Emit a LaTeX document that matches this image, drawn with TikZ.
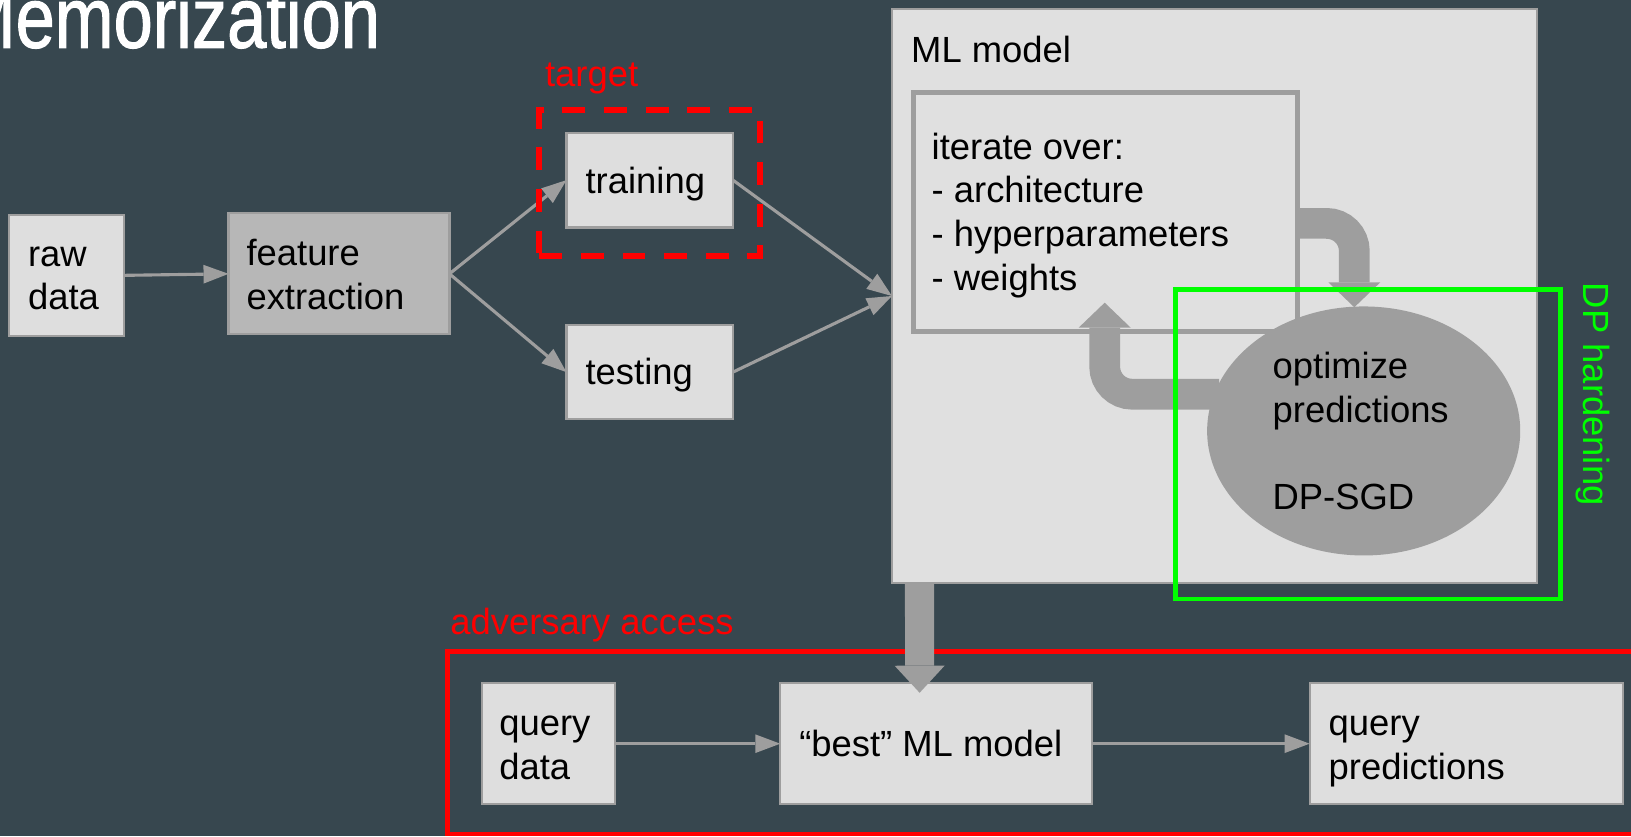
\documentclass[tikz,border=0pt]{standalone}
\usepackage{fontspec}
\setmainfont{Liberation Sans}
\newfontfamily\titlefont[FakeBold=1.4]{Liberation Sans}
\usepackage{graphicx}
\usetikzlibrary{arrows.meta,calc,shapes.geometric}
\definecolor{bg}{HTML}{37474F}
\definecolor{boxfill}{HTML}{DEDEDE}
\definecolor{mlfill}{HTML}{E0E0E0}
\definecolor{featfill}{HTML}{B7B7B7}
\definecolor{edge}{HTML}{9E9E9E}
\definecolor{bandgray}{HTML}{9E9E9E}
\definecolor{redc}{HTML}{FF0000}
\definecolor{greenc}{HTML}{00FF00}
\pgfdeclarelayer{fg}
\pgfsetlayers{main,fg}
\begin{document}
\begin{tikzpicture}[x=1pt,y=-1pt,
  box/.style={draw=edge, line width=2pt, fill=boxfill, rectangle, inner sep=0pt, outer sep=0pt},
  txt/.style={anchor=base west, inner sep=0pt, outer sep=0pt, font=\fontsize{35}{42}\selectfont, text=black},
  conn/.style={draw=edge, line width=3pt, -{Triangle[length=24pt,width=18pt,line width=0pt]}},
  band/.style={draw=bandgray, line width=29.5pt, rounded corners=26.5pt, -{Triangle[length=24pt,width=50pt,line width=0pt]}},
]
\useasboundingbox (0,0) rectangle (1568,804);
\fill[bg] (0,0) rectangle (1568,804);
\clip (0,0) rectangle (1568,804);

% title
\node[anchor=base west, inner sep=0pt, text=white] (title) at (-41.6,45.8)
  {\scalebox{0.818}[1]{\titlefont\fontsize{82.85}{90}\selectfont Memorization}};

% ML model container
\node[box, fill=mlfill, minimum width=620.1pt, minimum height=552.3pt] (ml) at (1167.55,284.55) {};
\node[txt] (mlt) at (876,60) {ML model};
\node[draw=edge, line width=5pt, rectangle, inner sep=0pt, outer sep=0pt, minimum width=369.5pt, minimum height=229.5pt] (iter) at (1062.75,203.75) {};
\node[txt] (itert) at (895.7,153) {\vtop{\hbox{iterate over:}\hbox{- architecture}\hbox{- hyperparameters}\hbox{- weights}}};

\begin{pgfonlayer}{fg}
\node[ellipse, fill=bandgray, inner sep=0pt, outer sep=0pt, minimum width=301pt, minimum height=239.4pt] (ell) at (1311,414.3) {};
\node[txt] (ellt) at (1223.5,364) {\vtop{\hbox{optimize}\hbox{predictions}\hbox{}\hbox{DP-SGD}}};
\end{pgfonlayer}

% loop bands
\draw[band] ($(iter.east)+(0,11)$) -| ($(ell.north)+(-9,0.8)$);
\draw[band] ($(ell.west)+(11.5,-35.3)$) -| ($(iter.south)+(-0.75,-27.5)$);

% left pipeline
\node[box, minimum width=110.4pt, minimum height=116pt] (raw) at (64,264.7) {};
\node[txt] (rawt) at (27,256) {\vtop{\hbox{raw}\hbox{data}}};
\node[box, fill=featfill, minimum width=212.4pt, minimum height=116.3pt] (feat) at (325.9,263.25) {};
\node[txt] (featt) at (237,255.5) {\vtop{\hbox{feature}\hbox{extraction}}};
\node[box, minimum width=160pt, minimum height=91.1pt] (train) at (624.6,173.15) {};
\node[txt] (traint) at (563,185.7) {training};
\node[box, minimum width=160pt, minimum height=90.7pt] (test) at (624.6,357.75) {};
\node[txt] (testt) at (563,369.8) {testing};

\draw[conn] (raw.east) -- (feat.west);
\draw[conn] (feat.east) -- (train.west);
\draw[conn] (feat.east) -- (test.west);
\draw[conn] (train.east) -- (ml.west);
\draw[conn] (test.east) -- (ml.west);

% target
\node[draw=redc, line width=5.8pt, dash pattern=on 22pt off 18pt, rectangle, inner sep=0pt, outer sep=0pt, minimum width=212.1pt, minimum height=140pt] (target) at (624.55,175.8) {};
\node[txt, text=redc] (targett) at (524,83) {target};

% adversary access
\node[draw=redc, line width=4.5pt, rectangle, inner sep=0pt, outer sep=0pt, minimum width=1170pt, minimum height=175.8pt] (adv) at (1015,713.9) {};
\node[txt, text=redc] (advt) at (433,609.6) {adversary access};
\node[box, minimum width=127.7pt, minimum height=116.1pt] (qd) at (527.05,714.95) {};
\node[txt] (qdt) at (480,707) {\vtop{\hbox{query}\hbox{data}}};
\node[box, minimum width=299.4pt, minimum height=116.1pt] (best) at (899.8,714.95) {};
\node[txt] (bestt) at (768.4,727.5) {“best” ML model};
\node[box, minimum width=301pt, minimum height=116.1pt] (qp) at (1409.5,714.95) {};
\node[txt] (qpt) at (1277.4,707) {\vtop{\hbox{query}\hbox{predictions}}};
\draw[conn] (qd.east) -- (best.west);
\draw[conn] (best.east) -- (qp.west);
\draw[band, line width=28pt, rounded corners=0pt, -{Triangle[length=26pt,width=48pt,line width=0pt]}]
  ($(ml.south west)+(26.5,0)$) -- ($(best.north west)+(134,9.1)$);

% DP hardening
\begin{pgfonlayer}{fg}
\node[draw=greenc, line width=4.5pt, rectangle, inner sep=0pt, outer sep=0pt, minimum width=370.5pt, minimum height=297.4pt] (dp) at (1315.25,427.3) {};
\node[txt, text=greenc, rotate=-90] (dpt) at (1522,272) {DP hardening};
\end{pgfonlayer}
\end{tikzpicture}
\end{document}
